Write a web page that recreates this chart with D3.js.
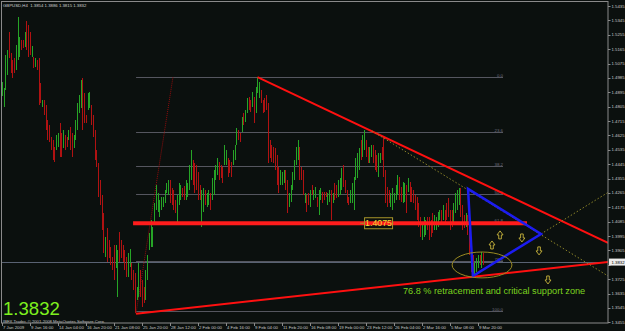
<!DOCTYPE html>
<html><head><meta charset="utf-8">
<script src="https://cdn.jsdelivr.net/npm/d3@7"></script>
<style>html,body{margin:0;padding:0;background:#0b100e;overflow:hidden}svg{display:block}</style>
</head><body><svg id="c" width="625" height="331"></svg>
<script>
// ---- data (GBPUSD H4, from 7 Jan 2009) ----
const highs=[
1.4960,1.4922,1.5129,1.5160,1.5273,1.5141,1.5097,1.5110,1.5191,1.5367,
1.5241,1.5223,1.5223,1.5273,1.5342,1.5316,1.5273,1.5185,1.5116,1.5110,
1.5097,1.5110,1.4953,1.4847,1.4847,1.4816,1.4722,1.4691,1.4615,1.4597,
1.4553,1.4628,1.4640,1.4703,1.4640,1.4659,1.4628,1.4615,1.4659,1.4678,
1.4640,1.4628,1.4722,1.4828,1.4878,1.4972,1.4985,1.4891,1.4753,1.4891,
1.4897,1.4816,1.4753,1.4659,1.4534,1.4453,1.4346,1.4252,1.4140,1.3989,
1.4046,1.3971,1.3927,1.3864,1.3939,1.3939,1.3908,1.4021,1.3971,1.3939,
1.3908,1.3864,1.3889,1.3914,1.3827,1.3783,1.3764,1.3676,1.3827,1.3783,
1.3720,1.3676,1.3783,1.3877,1.4014,1.4096,1.4052,1.4202,1.4315,1.4265,
1.4221,1.4240,1.4240,1.4284,1.4327,1.4346,1.4346,1.4296,1.4284,1.4221,
1.4252,1.4327,1.4315,1.4296,1.4309,1.4346,1.4327,1.4440,1.4534,1.4471,
1.4453,1.4440,1.4396,1.4315,1.4284,1.4296,1.4284,1.4265,1.4284,1.4265,
1.4359,1.4409,1.4440,1.4484,1.4459,1.4440,1.4428,1.4566,1.4534,1.4484,
1.4471,1.4459,1.4534,1.4566,1.4672,1.4659,1.4640,1.4741,1.4766,1.4784,
1.4860,1.4866,1.4847,1.4897,1.4866,1.4928,1.4990,1.4960,1.4910,1.4847,
1.4860,1.4878,1.4828,1.4597,1.4566,1.4553,1.4547,1.4503,1.4428,1.4409,
1.4396,1.4409,1.4409,1.4346,1.4265,1.4315,1.4396,1.4471,1.4553,1.4597,
1.4553,1.4428,1.4409,1.4265,1.4252,1.4265,1.4284,1.4315,1.4284,1.4302,
1.4240,1.4284,1.4296,1.4271,1.4271,1.4271,1.4265,1.4284,1.4284,1.4265,
1.4327,1.4315,1.4346,1.4359,1.4421,1.4440,1.4346,1.4284,1.4240,1.4284,
1.4327,1.4365,1.4484,1.4515,1.4547,1.4597,1.4628,1.4659,1.4597,1.4553,
1.4553,1.4566,1.4566,1.4534,1.4503,1.4515,1.4515,1.4553,1.4615,1.4409,
1.4302,1.4284,1.4265,1.4296,1.4265,1.4315,1.4378,1.4365,1.4302,1.4334,
1.4327,1.4315,1.4359,1.4334,1.4302,1.4284,1.4252,1.4240,1.4202,1.4115,
1.4077,1.4115,1.4096,1.4115,1.4115,1.4096,1.4140,1.4127,1.4115,1.4146,
1.4158,1.4158,1.4190,1.4158,1.4202,1.4233,1.4158,1.4158,1.4202,1.4265,
1.4284,1.4296,1.4296,1.4190,1.4127,1.4140,1.4127,1.4065,1.3971,1.3877,
1.3833,1.3858,1.3877,1.3877,1.3895,1.3886];
const lows=[
1.4872,1.4803,1.4910,1.5004,1.5110,1.5016,1.4985,1.5016,1.5035,1.5097,
1.5116,1.5160,1.5173,1.5179,1.5160,1.5116,1.5129,1.5116,1.5047,1.5054,
1.5035,1.4816,1.4828,1.4803,1.4753,1.4659,1.4597,1.4584,1.4534,1.4471,
1.4459,1.4534,1.4553,1.4490,1.4490,1.4547,1.4534,1.4553,1.4597,1.4534,
1.4490,1.4547,1.4597,1.4659,1.4766,1.4797,1.4659,1.4703,1.4703,1.4784,
1.4797,1.4691,1.4615,1.4471,1.4428,1.4240,1.4190,1.4033,1.3889,1.3864,
1.3833,1.3858,1.3814,1.3783,1.3720,1.3795,1.3614,1.3833,1.3858,1.3833,
1.3783,1.3739,1.3739,1.3802,1.3720,1.3658,1.3514,1.3595,1.3614,1.3614,
1.3551,1.3576,1.3595,1.3720,1.3908,1.3927,1.3927,1.4077,1.4158,1.4146,
1.4115,1.4158,1.4177,1.4202,1.4265,1.4252,1.4202,1.4190,1.4158,1.4140,
1.4083,1.4190,1.4221,1.4240,1.4221,1.4221,1.4240,1.4284,1.4346,1.4315,
1.4265,1.4284,1.4221,1.4221,1.4052,1.4146,1.4190,1.4177,1.4190,1.4158,
1.4221,1.4252,1.4346,1.4378,1.4346,1.4359,1.4327,1.4440,1.4440,1.4365,
1.4390,1.4365,1.4440,1.4471,1.4566,1.4597,1.4584,1.4647,1.4691,1.4709,
1.4766,1.4784,1.4772,1.4803,1.4703,1.4766,1.4891,1.4860,1.4828,1.4766,
1.4772,1.4784,1.4453,1.4484,1.4459,1.4453,1.4409,1.4315,1.4265,1.4315,
1.4315,1.4327,1.4284,1.4140,1.4177,1.4208,1.4284,1.4346,1.4440,1.4471,
1.4346,1.4346,1.4252,1.4202,1.4146,1.4190,1.4177,1.4252,1.4221,1.4233,
1.4177,1.4127,1.4221,1.4202,1.4221,1.4240,1.4190,1.4208,1.4096,1.4202,
1.4221,1.4233,1.4240,1.4252,1.4284,1.4302,1.4265,1.4202,1.4190,1.4202,
1.4202,1.4158,1.4346,1.4359,1.4409,1.4471,1.4490,1.4534,1.4490,1.4453,
1.4453,1.4490,1.4453,1.4409,1.4396,1.4365,1.4453,1.4471,1.4365,1.4202,
1.4177,1.4202,1.4177,1.4158,1.4202,1.4221,1.4252,1.4221,1.4208,1.4202,
1.4208,1.4140,1.4271,1.4208,1.4208,1.4202,1.4158,1.4096,1.4052,1.3989,
1.3971,1.3989,1.4002,1.4033,1.3971,1.3989,1.4014,1.4033,1.4033,1.4052,
1.4096,1.4065,1.4096,1.4077,1.4096,1.4115,1.4033,1.4052,1.4077,1.4140,
1.4158,1.4190,1.4115,1.4033,1.4046,1.4052,1.4002,1.3877,1.3770,1.3752,
1.3752,1.3770,1.3795,1.3814,1.3795,1.3815];
// bar direction: u = up (green), d = down (red)
const dirs=("uuuudddduu"+"uddudddudu"+"dddudddddd"+"duudduddud"+"duuuuudddu"+
"uddddddddu"+"ddddduuddd"+"dduuddduud"+"dduuuuuuuu"+"uuuuuudddd"+
"uuudduuuud"+"dddduuduud"+"uuuuddduud"+"dduuuddudu"+"udduduuudd"+
"dddddddddu"+"uudduuuuuu"+"dddudduduu"+"duuddduudu"+"dduuuddddu"+
"uuuuuduudd"+"uuddduuddd"+"dduuuuuddu"+"ududdddddd"+"uuudddduuu"+
"ududdddduu"+"uudddudddd"+"uuudud").split("");
const lastBar={open:1.3854,high:1.3886,low:1.3815,close:1.3832};

const yTicks=[1.5435,1.5345,1.5255,1.5165,1.5075,1.4985,1.4895,1.4805,1.4715,1.4625,1.4535,1.4445,
1.4355,1.4265,1.4175,1.4085,1.3995,1.3905,1.3815,1.3725,1.3635,1.3545,1.3455];
const dateTicks=[0,16,32,48,64,80,96,112,128,144,160,176,192,208,224,240,256,272];
const dateTexts=["7 Jan 2009","9 Jan 16:00","14 Jan 04:00","16 Jan 20:00","21 Jan 08:00","25 Jan 20:00",
"28 Jan 12:00","2 Feb 00:00","4 Feb 16:00","9 Feb 04:00","11 Feb 20:00","16 Feb 08:00","19 Feb 00:00",
"23 Feb 12:00","26 Feb 04:00","2 Mar 16:00","5 Mar 08:00","9 Mar 20:00"];

// drawn objects
const fiboLevels=[0,23.6,38.2,50,61.8,78.6,100];
const fiboHigh=1.4990, fiboLow=1.3525, fiboFrom=76.6, fiboTo=286.3;
const fiboDiag=[[76.6,1.3510],[97.7,1.4990]];
const upperTrend=[[146,1.4990],[346.3,1.3952]];
const lowerTrend=[[76.6,1.3509],[346.3,1.3832]];
const supportLevel=1.4075, supportFrom=74.9, supportTo=300;
const triangle=[[266.3,1.4290],[308,1.4008],[269.1,1.3745]];
const dotLines=[[[211.4,1.4653],[346.3,1.3745]],[[308,1.4008],[346.3,1.4268]]];
const ellipse={bar:274.3,price:1.3814,bars:17.1,range:0.0081};
const upArrows=[[284.6,1.4002],[280,1.3939]];
const downArrows=[[297.1,1.3983],[306.9,1.3902],[312,1.3720]];
const note="76.8 % retracement and critical support zone";

// ---- drawing ----
const svg=d3.select("#c");
const FONT="'Liberation Sans', Arial, sans-serif";
const L=2,R=608,T=1,B=323;
const x=d3.scaleLinear().domain([0,346.29]).range([2,608]);
const y=d3.scaleLinear().domain([1.3455,1.5435]).range([322.3,6]);

svg.append("rect").attr("width",625).attr("height",331).attr("fill","#0b100e");
svg.append("clipPath").attr("id","clip").append("rect").attr("x",L).attr("y",T).attr("width",R-L).attr("height",B-T);
const g=svg.append("g").attr("clip-path","url(#clip)");
const line=d3.line().x(d=>x(d[0])).y(d=>y(d[1]));

// fibo levels
fiboLevels.forEach(r=>{
  const p=fiboHigh-r/100*(fiboHigh-fiboLow);
  g.append("line").attr("x1",x(fiboFrom)).attr("x2",x(fiboTo)).attr("y1",Math.round(y(p))+0.5).attr("y2",Math.round(y(p))+0.5)
   .attr("stroke","#55565f").attr("stroke-width",1);
  g.append("text").attr("x",x(fiboTo)).attr("y",Math.round(y(p))-0.3).attr("text-anchor","end")
   .attr("font-family",FONT).attr("font-size",4.4).attr("fill","#6e6e7e").text(r.toFixed(1));
});
// current price line
g.append("line").attr("x1",L).attr("x2",R).attr("y1",Math.round(y(lastBar.close))+0.5).attr("y2",Math.round(y(lastBar.close))+0.5)
 .attr("stroke","#596272").attr("stroke-width",1);
// fibo diagonal
g.append("path").attr("d",line(fiboDiag)).attr("stroke","#8e0c0c").attr("stroke-width",1).attr("stroke-dasharray","1,1").attr("fill","none");

// bars
g.append("g").attr("shape-rendering","crispEdges").selectAll("line").data(highs).join("line")
 .attr("x1",(d,i)=>Math.round(x(i))+0.5).attr("x2",(d,i)=>Math.round(x(i))+0.5)
 .attr("y1",d=>y(d)).attr("y2",(d,i)=>y(lows[i]))
 .attr("stroke",(d,i)=>dirs[i]==="u"?"#26a426":"#b01212").attr("stroke-width",1);

// support line
g.append("line").attr("x1",x(supportFrom)).attr("x2",x(supportTo)).attr("y1",y(supportLevel)).attr("y2",y(supportLevel))
 .attr("stroke","#ff1c1c").attr("stroke-width",4);
// trend lines
[upperTrend,lowerTrend].forEach(t=>g.append("path").attr("d",line(t)).attr("stroke","#ff1010").attr("stroke-width",2).attr("fill","none"));
// dotted extensions
dotLines.forEach(t=>g.append("path").attr("d",line(t)).attr("stroke","#8c8428").attr("stroke-width",1).attr("stroke-dasharray","1.5,2").attr("fill","none"));
// triangle
g.append("path").attr("d",line(triangle)+"Z").attr("stroke","#1c1cf0").attr("stroke-width",2.5).attr("fill","none").attr("stroke-linejoin","miter");
// ellipse
g.append("ellipse").attr("cx",x(ellipse.bar)).attr("cy",y(ellipse.price))
 .attr("rx",x(ellipse.bar+ellipse.bars)-x(ellipse.bar)).attr("ry",y(ellipse.price-ellipse.range)-y(ellipse.price))
 .attr("stroke","#9a8a22").attr("stroke-width",1).attr("fill","none");
// arrows
function arrow(cx,cy,up){
  const s=up?1:-1;
  return `M${cx-3},${cy} L${cx},${cy-4*s} L${cx+3},${cy} L${cx+1.3},${cy} L${cx+1.3},${cy+4*s} L${cx-1.3},${cy+4*s} L${cx-1.3},${cy} Z`;
}
upArrows.forEach(a=>g.append("path").attr("d",arrow(x(a[0]),y(a[1]),true)).attr("stroke","#c8b43c").attr("stroke-width",0.9).attr("fill","none"));
downArrows.forEach(a=>g.append("path").attr("d",arrow(x(a[0]),y(a[1]),false)).attr("stroke","#c8b43c").attr("stroke-width",0.9).attr("fill","none"));
// 1.4075 label box
const bx=x(214.9), by=y(supportLevel);
g.append("line").attr("x1",bx-18).attr("x2",bx-14).attr("y1",by).attr("y2",by).attr("stroke","#a0902a");
g.append("rect").attr("x",bx-13.5).attr("y",by-5.5).attr("width",28).attr("height",11).attr("fill","none").attr("stroke","#a8962a").attr("stroke-width",1);
g.append("text").attr("x",bx+0.5).attr("y",by+3.2).attr("text-anchor","middle").attr("font-family",FONT).attr("font-size",8.8)
 .attr("fill","#f2dc34").text(supportLevel.toFixed(4));
// note
g.append("text").attr("x",x(229.1)).attr("y",294).attr("font-family",FONT).attr("font-size",9.2).attr("fill","#7bd41f").text(note);
// big price
g.append("text").attr("x",3).attr("y",314.6).attr("font-family",FONT).attr("font-size",18.6).attr("fill","#7ef01e").text(lastBar.close.toFixed(4));
// copyright
g.append("text").attr("x",3).attr("y",322.6).attr("font-family",FONT).attr("font-size",4.2).attr("fill","#c4c4c4")
 .text("IBFX Trader, \u00a9 2001-2008 MetaQuotes Software Corp.");
// header
svg.append("text").attr("x",3).attr("y",6.5).attr("font-family",FONT).attr("font-size",4.3).attr("fill","#d0d0d0")
 .attr("xml:space","preserve")
 .text(`GBPUSD,H4  ${lastBar.open.toFixed(4)} ${lastBar.high.toFixed(4)} ${lastBar.low.toFixed(4)} ${lastBar.close.toFixed(4)}`);

// frame
svg.append("rect").attr("x",1.5).attr("y",1.5).attr("width",R-1.5).attr("height",B-1.5).attr("fill","none").attr("stroke","#8a8a8a").attr("stroke-width",1);
// y axis labels (the one under the current-price box is hidden, as in the terminal)
const py=y(lastBar.close);
yTicks.forEach(v=>{
  svg.append("line").attr("x1",R).attr("x2",R+2.5).attr("y1",Math.round(y(v))+0.5).attr("y2",Math.round(y(v))+0.5).attr("stroke","#8a8a8a");
  if(Math.abs(y(v)-py)<6) return;
  svg.append("text").attr("x",R+3.5).attr("y",y(v)+1.5).attr("font-family",FONT).attr("font-size",4.3).attr("fill","#c8c8c8").text(v.toFixed(4));
});
// price box
svg.append("rect").attr("x",R+1).attr("y",py-3.5).attr("width",16).attr("height",7).attr("fill","#ececec");
svg.append("text").attr("x",R+3.5).attr("y",py+1.6).attr("font-family",FONT).attr("font-size",4.3).attr("fill","#000").text(lastBar.close.toFixed(4));
// date axis
dateTicks.forEach((b,k)=>{
  svg.append("line").attr("x1",Math.round(x(b))+0.5).attr("x2",Math.round(x(b))+0.5).attr("y1",B).attr("y2",B+3).attr("stroke","#8a8a8a");
  svg.append("text").attr("x",x(b)+1).attr("y",329.2).attr("font-family",FONT).attr("font-size",4.3).attr("fill","#c8c8c8").text(dateTexts[k]);
});
</script></body></html>
